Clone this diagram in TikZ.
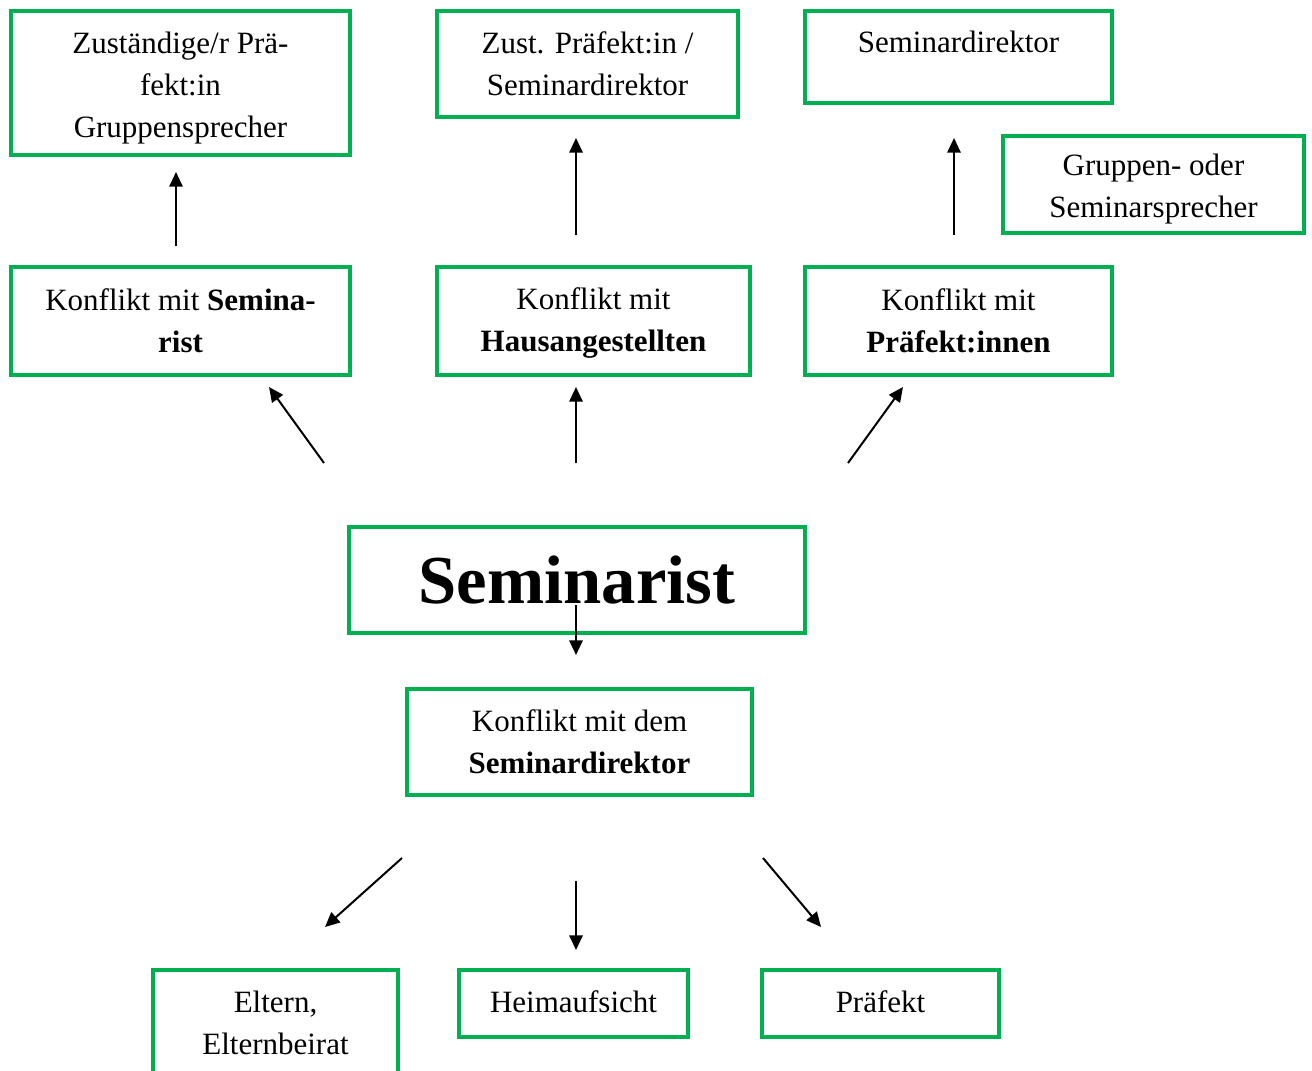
\documentclass[tikz,border=0pt]{standalone}
\usepackage{fontspec}
\setmainfont{Liberation Serif}
\usetikzlibrary{arrows.meta}
\definecolor{boxgreen}{RGB}{0,176,80}
\begin{document}
\begin{tikzpicture}[x=0.75pt,y=-0.75pt,
  box/.style={draw=boxgreen, line width=2.6pt, inner sep=0pt, align=center,
    font=\fontsize{23.25pt}{31.5pt}\selectfont},
  plain/.style={inner sep=0pt, align=center, font=\fontsize{23.25pt}{31.5pt}\selectfont},
  arr/.style={line width=1.5pt, -{Triangle[length=11pt,width=10pt]}}]
\useasboundingbox (0,0) rectangle (1312,1070);
% top row
\node[box, minimum width=339*0.75pt, minimum height=144*0.75pt] (b1) at (180.5,83) {};
\node[plain] (t1) at (180.5,88) {Zuständige/r Prä-\\fekt:in\\Gruppensprecher};
\node[box, minimum width=301*0.75pt, minimum height=106*0.75pt] (b2) at (587.5,64)
  {Zust. Präfekt:in /\\Seminardirektor};
\node[box, minimum width=307*0.75pt, minimum height=92*0.75pt] (b3) at (958.5,57) {};
\node[plain] (t3) at (958.5,42) {Seminardirektor};
\node[box, minimum width=301*0.75pt, minimum height=97*0.75pt] (b4) at (1153.5,184.5) {};
\node[plain] (t4) at (1153.5,189.5) {Gruppen- oder\\Seminarsprecher};
% conflict row
\node[box, minimum width=339*0.75pt, minimum height=108*0.75pt] (b5) at (180.5,321)
  {Konflikt mit \textbf{Semina-}\\\textbf{rist}};
\node[box, minimum width=313*0.75pt, minimum height=108*0.75pt] (b6) at (593.5,321) {};
\node[plain] (t6) at (593.5,323) {Konflikt mit\\\textbf{Hausangestellten}};
\node[box, minimum width=307*0.75pt, minimum height=108*0.75pt] (b7) at (958.5,321)
  {Konflikt mit\\\textbf{Präfekt:innen}};
% centre
\node[box, minimum width=456*0.75pt, minimum height=106*0.75pt,
  font=\fontsize{51.5pt}{60pt}\selectfont\bfseries] (b8) at (577,580) {Seminarist};
\node[box, minimum width=345*0.75pt, minimum height=106*0.75pt] (b9) at (579.5,742)
  {Konflikt mit dem\\\textbf{Seminardirektor}};
% bottom row
\node[box, minimum width=245*0.75pt, minimum height=106*0.75pt] (b10) at (275.5,1023)
  {Eltern,\\Elternbeirat};
\node[box, minimum width=229*0.75pt, minimum height=67*0.75pt] (b11) at (573.5,1003.5) {};
\node[plain] (t11) at (573.5,1001.5) {Heimaufsicht};
\node[box, minimum width=237*0.75pt, minimum height=67*0.75pt] (b12) at (880.5,1003.5) {};
\node[plain] (t12) at (880.5,1001.5) {Präfekt};
% arrow end points
\coordinate (a1s) at (176,246); \coordinate (a1e) at (176,172);
\coordinate (a2s) at (576,235); \coordinate (a2e) at (576,138);
\coordinate (a3s) at (954,235); \coordinate (a3e) at (954,138);
\coordinate (a4s) at (324,463); \coordinate (a4e) at (269,387);
\coordinate (a5s) at (576,463); \coordinate (a5e) at (576,387);
\coordinate (a6s) at (848,463); \coordinate (a6e) at (903,387);
\coordinate (a7s) at (576,605); \coordinate (a7e) at (576,655);
\coordinate (a8s) at (402,858); \coordinate (a8e) at (325,927);
\coordinate (a9s) at (576,881); \coordinate (a9e) at (576,950);
\coordinate (a10s) at (763,858); \coordinate (a10e) at (821,927);
\foreach \i in {1,...,10} { \draw[arr] (a\i s) -- (a\i e); }
\end{tikzpicture}
\end{document}
